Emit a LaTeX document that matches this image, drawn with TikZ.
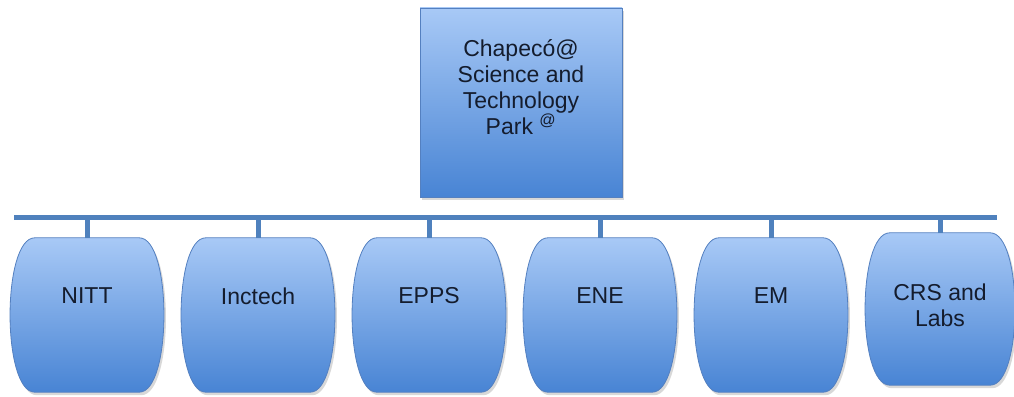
\documentclass[tikz,border=0pt]{standalone}
\usepackage{fontspec}
\setmainfont{Liberation Sans}
\usetikzlibrary{calc,shadows}
\definecolor{boxtop}{RGB}{168,201,246}
\definecolor{boxmid}{RGB}{132,179,238}
\definecolor{boxbot}{RGB}{72,132,212}
\definecolor{edgeblue}{RGB}{84,128,192}
\definecolor{linkblue}{RGB}{79,129,189}
\definecolor{txt}{RGB}{20,28,45}
\begin{document}
\begin{tikzpicture}[x=1pt,y=-1pt,
  lbl/.style={font=\fontsize{23}{26}\selectfont, text=txt, align=center, inner sep=0pt},
  slot/.style={minimum width=154pt, minimum height=154pt, inner sep=0pt, draw=none},
  link/.style={draw=linkblue, line width=5pt},
  softshadow/.style={drop shadow={opacity=0.25, fill=black!60, shadow xshift=2pt, shadow yshift=-3pt}},
  barrelfill/.style={top color=boxtop, middle color=boxmid, bottom color=boxbot, draw=edgeblue, line width=0.8pt, softshadow},
  parkbox/.style={draw=edgeblue, line width=0.8pt, top color=boxtop, middle color=boxmid, bottom color=boxbot,
    minimum width=202pt, minimum height=189pt, inner sep=0pt, softshadow}]
\fill[white] (0,0) rectangle (1014,396);
\useasboundingbox (0,0) rectangle (1014,396);

% top box
\node[parkbox] (park) at (521,102.5) {};

% bottom slots
\node[slot] (nitt) at (87,315) {};
\node[slot] (inctech) at (258,315) {};
\node[slot] (epps) at (429,315) {};
\node[slot] (ene) at (600,315) {};
\node[slot] (em) at (771,315) {};
\node[slot, minimum width=150pt, minimum height=152pt] (crs) at (940,309) {};

% barrels
\foreach \n in {nitt,inctech,epps,ene,em,crs}{
  \shade[barrelfill]
    ($(\n.north west)+(25,0)$) -- ($(\n.north east)+(-25,0)$)
    .. controls ($(\n.north east)+(8,0)$) and ($(\n.south east)+(8,0)$) .. ($(\n.south east)+(-25,0)$)
    -- ($(\n.south west)+(25,0)$)
    .. controls ($(\n.south west)+(-8,0)$) and ($(\n.north west)+(-8,0)$) .. cycle;
}

% labels
\node[lbl] (parkL) at (521,87) {Chapecó@\\Science and\\Technology\\Park \textsuperscript{@}};
\node[lbl] (nittL) at ($(nitt.center)+(0,-19)$) {NITT};
\node[lbl] (inctechL) at ($(inctech.center)+(0,-19)$) {Inctech};
\node[lbl] (eppsL) at ($(epps.center)+(0,-19)$) {EPPS};
\node[lbl] (eneL) at ($(ene.center)+(0,-19)$) {ENE};
\node[lbl] (emL) at ($(em.center)+(0,-19)$) {EM};
\node[lbl] (crsL) at ($(crs.center)+(0,-4)$) {CRS and\\Labs};

% connectors
\coordinate (busL) at (14,217);
\coordinate (busR) at (997,217);
\draw[link] (busL) -- (busR);
\draw[link] ($(park.south)+(6,0)$) -- ($(park.south)+(6,0)$ |- busL);
\foreach \n in {nitt,inctech,epps,ene,em,crs}{
  \draw[link] (\n.north |- busL) -- (\n.north);
}
\end{tikzpicture}
\end{document}
